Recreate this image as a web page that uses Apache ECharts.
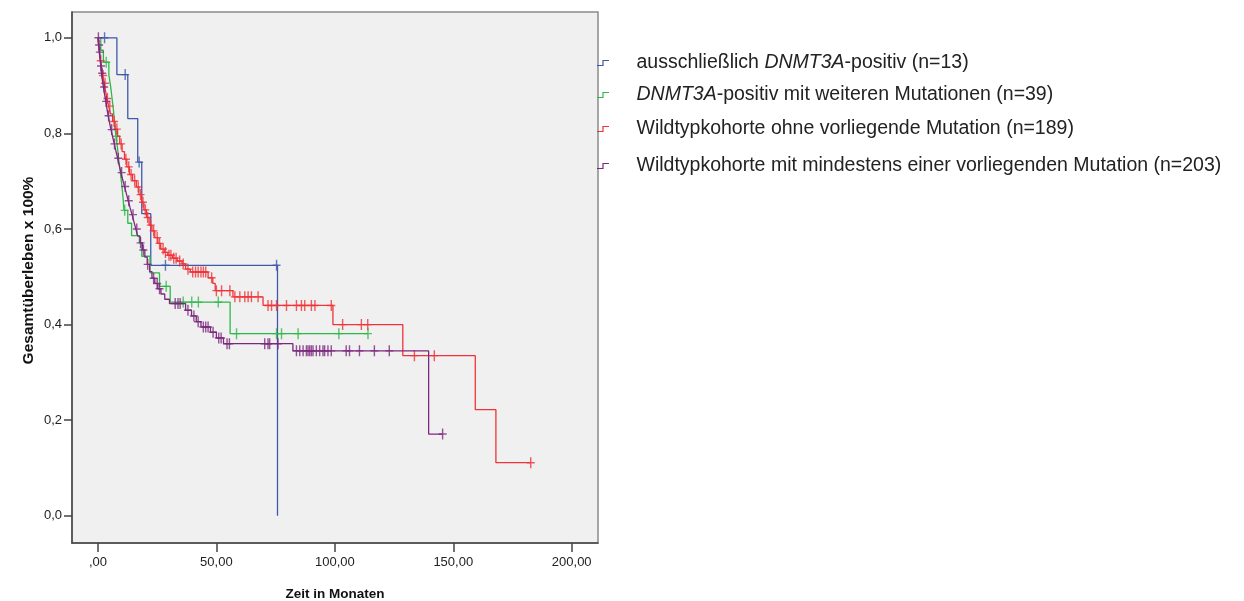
<!DOCTYPE html>
<html>
<head>
<meta charset="utf-8">
<script src="https://cdn.jsdelivr.net/npm/echarts@6/dist/echarts.min.js"></script>
<style>
  html, body { margin: 0; padding: 0; background: #ffffff; }
  #chart { width: 1244px; height: 601px; }
</style>
</head>
<body>
<div id="chart"></div>
<script>
// Kaplan-Meier overall survival by cohort.
// Steps: [time in months, survival after the event]; censored: times of censored cases.
const groupNames = [
  'ausschließlich DNMT3A-positiv (n=13)',
  'DNMT3A-positiv mit weiteren Mutationen (n=39)',
  'Wildtypkohorte ohne vorliegende Mutation (n=189)',
  'Wildtypkohorte mit mindestens einer vorliegenden Mutation (n=203)'
];

const blueSteps = [[0,1],[8,0.923],[12.6,0.831],[16.8,0.74],[18.5,0.632],[22.3,0.524],[75.8,0]];
const blueCensored = [2.8, 11.5, 17.4, 28.5, 75.4];

const greenSteps = [[0,1],[1.2,0.974],[2.3,0.949],[4.6,0.923],[5.4,0.897],[6.0,0.872],[6.6,0.846],
  [7.1,0.82],[7.6,0.794],[8.3,0.768],[8.8,0.743],[9.5,0.717],[10.1,0.691],[10.6,0.665],[11.0,0.639],
  [12.6,0.612],[14.2,0.586],[17.5,0.571],[18.5,0.543],[22,0.508],[26,0.48],[30.5,0.447],[55.8,0.381]];
const greenCensored = [3.5, 8.0, 11.3, 28.8, 36, 39.6, 42.4, 50.8, 58.5, 75.4, 77.5, 84.5, 101.7, 114];

const redSteps = [[0,1],[0.3,0.984],[0.6,0.968],[1,0.952],[1.5,0.937],[2,0.921],[2.6,0.905],[3.2,0.889],
  [3.8,0.873],[4.5,0.857],[5.3,0.841],[6.2,0.825],[7.2,0.809],[8.3,0.794],[9.2,0.778],[10.2,0.762],
  [11.2,0.746],[12.2,0.73],[13.3,0.714],[14.6,0.701],[16.2,0.688],[17.3,0.672],[18.4,0.656],[19.4,0.64],
  [20.5,0.624],[21.6,0.608],[22.8,0.596],[24,0.582],[25.3,0.57],[26.5,0.558],[28,0.551],[29.5,0.545],
  [31.5,0.539],[33.5,0.533],[35.5,0.527],[37,0.516],[39,0.51],[46.5,0.498],[48.5,0.486],[49.5,0.471],
  [57,0.458],[69.7,0.44],[99.2,0.40],[128.7,0.335],[159.3,0.222],[168,0.111]];
const redCensored = [1.2, 2.2, 3, 4, 5, 6.8, 8, 9.8, 11.8, 13, 14, 15.5, 17, 18, 19, 20, 21, 22.3, 23.5,
  25, 26, 27.5, 28.5, 30, 30.8, 32, 33, 34.5, 36, 38, 40, 41.2, 42.3, 43.5, 44.5, 45.5, 48, 50, 52.2, 55.7,
  57.8, 59.9, 62, 63.4, 64.8, 67.6, 71.8, 73.3, 75.4, 79.6, 83.8, 85.9, 87.3, 90.1, 91.6, 98.5,
  103.3, 111.2, 113.9, 133.6, 142, 182.7];

const purpleSteps = [[0,1],[0.3,0.985],[0.6,0.97],[0.9,0.956],[1.2,0.941],[1.5,0.926],[1.9,0.911],
  [2.3,0.897],[2.8,0.882],[3.3,0.867],[3.8,0.852],[4.3,0.837],[4.9,0.822],[5.5,0.808],[6.2,0.793],
  [6.9,0.778],[7.6,0.763],[8.3,0.748],[9,0.733],[9.7,0.718],[10.4,0.704],[11.2,0.689],[12,0.674],
  [12.8,0.659],[13.6,0.644],[14.4,0.63],[15.2,0.615],[16,0.6],[16.8,0.585],[17.8,0.571],[18.8,0.556],
  [19.8,0.541],[20.8,0.526],[21.8,0.511],[22.8,0.497],[24,0.486],[25.3,0.475],[26.6,0.464],[28.2,0.453],
  [30.2,0.444],[37,0.43],[39.5,0.418],[41.5,0.406],[43.5,0.395],[47.5,0.384],[50,0.372],[53,0.36],
  [82.3,0.345],[139.6,0.171]];
const purpleCensored = [0.2, 0.5, 0.8, 1.3, 1.8, 2.6, 3.5, 4.5, 5.8, 7, 8.6, 10, 11.5, 13, 14.8, 16.4,
  18, 19.2, 21, 23.5, 25, 26, 32.6, 33.8, 34.7, 38, 40.5, 42.3, 44.5, 45.5, 46.5, 48.6, 51, 52, 54.5,
  55.5, 70.4, 71.8, 72.5, 76, 83.8, 85.2, 86.6, 88, 88.7, 89.4, 90.1, 90.8, 92.2, 93.6, 95, 95.7, 97.1,
  98.5, 104.8, 106.2, 110.4, 116.7, 123, 145.5];

const xTicks = [0, 50, 100, 150, 200];
const yTicks = [0, 0.2, 0.4, 0.6, 0.8, 1.0];

const colors = ['#3E58AC', '#2EB848', '#EF3338', '#7C287D'];
const groups = [
  { steps: blueSteps, censored: blueCensored },
  { steps: greenSteps, censored: greenCensored },
  { steps: redSteps, censored: redCensored },
  { steps: purpleSteps, censored: purpleCensored }
];

// survival value of a step curve at time t
function survivalAt(steps, t) {
  let s = steps[0][1];
  for (const [time, val] of steps) { if (time <= t) s = val; else break; }
  return s;
}

const FONT = '"Liberation Sans", Arial, sans-serif';
const plusSymbol = 'path://M3.3,0H4.7V4.8H8V6.2H4.7V11H3.3V6.2H0V4.8H3.3Z';
const stepIcon = 'path://M0,5H5.4V0H12V1H6.6V6H0Z';

const series = [];
groups.forEach((g, i) => {
  const lineData = g.steps.slice();
  const lastCensor = Math.max(...g.censored);
  const lastStep = lineData[lineData.length - 1];
  if (lastCensor > lastStep[0] && lastStep[1] > 0) lineData.push([lastCensor, lastStep[1]]);
  series.push({
    name: groupNames[i],
    type: 'line',
    step: 'end',
    data: lineData,
    showSymbol: false,
    lineStyle: { color: colors[i], width: 1.3 },
    itemStyle: { color: colors[i] },
    animation: false,
    z: 2 + i
  });
  series.push({
    name: groupNames[i],
    type: 'scatter',
    data: g.censored.map(t => [t, survivalAt(g.steps, t)]),
    symbol: plusSymbol,
    symbolSize: [8, 11],
    itemStyle: { color: colors[i] },
    animation: false,
    z: 2 + i
  });
});

// legend text with the gene name set in italics
function richName(name) {
  const m = name.indexOf('DNMT3A');
  if (m < 0) return '{g|}{n|' + name + '}';
  const before = name.slice(0, m);
  const after = name.slice(m + 6);
  return '{g|}' + (before ? '{n|' + before + '}' : '') + '{i|DNMT3A}{n|' + after + '}';
}

const legendRowTops = [53, 85, 119, 156];
const legends = groupNames.map((n, i) => ({
  orient: 'vertical',
  left: 597, top: legendRowTops[i],
  padding: 0,
  itemWidth: 15, itemHeight: 6,
  data: [{ name: n, icon: stepIcon, itemStyle: { color: colors[i] } }],
  formatter: richName,
  textStyle: {
    color: '#222',
    fontSize: 19.5,
    rich: {
      g: { width: 21 },
      n: { fontSize: 19.5, color: '#222', fontFamily: FONT, lineHeight: 20 },
      i: { fontSize: 19.5, color: '#222', fontStyle: 'italic', fontFamily: FONT, lineHeight: 20 }
    }
  },
  selectedMode: false
}));

const chart = echarts.init(document.getElementById('chart'), null, { renderer: 'canvas' });
chart.setOption({
  backgroundColor: '#ffffff',
  animation: false,
  textStyle: { fontFamily: FONT },
  grid: {
    left: 72, top: 12, right: 1244 - 598, bottom: 601 - 543,
    outerBoundsMode: 'none',
    containLabel: false,
    show: true, backgroundColor: '#f0f0f0', borderColor: '#8a8a8a', borderWidth: 1.5
  },
  legend: legends,
  xAxis: {
    type: 'value',
    min: -10.95, max: 211.1,
    name: 'Zeit in Monaten',
    nameLocation: 'middle',
    nameGap: 44,
    nameTextStyle: { fontWeight: 'bold', fontSize: 13.5, color: '#111' },
    splitLine: { show: false },
    axisLine: { show: true, onZero: false, lineStyle: { color: '#444', width: 1.5 } },
    axisTick: { show: true, length: 9, customValues: xTicks, lineStyle: { color: '#444', width: 1.5 } },
    axisLabel: {
      customValues: xTicks, fontSize: 13, color: '#222', margin: 13,
      formatter: v => (v === 0 ? ',00' : v.toFixed(2).replace('.', ','))
    }
  },
  yAxis: {
    type: 'value',
    min: -0.057, max: 1.054,
    name: 'Gesamtüberleben x 100%',
    nameLocation: 'middle',
    nameGap: 35,
    nameRotate: 90,
    nameTextStyle: { fontWeight: 'bold', fontSize: 15.5, color: '#111', padding: [0, 0, 0, 14] },
    splitLine: { show: false },
    axisLine: { show: true, onZero: false, lineStyle: { color: '#444', width: 1.5 } },
    axisTick: { show: true, length: 8, customValues: yTicks, lineStyle: { color: '#444', width: 1.5 } },
    axisLabel: {
      customValues: yTicks, fontSize: 13, color: '#222', margin: 10,
      formatter: v => v.toFixed(1).replace('.', ',')
    }
  },
  series: series
});
</script>
</body>
</html>
